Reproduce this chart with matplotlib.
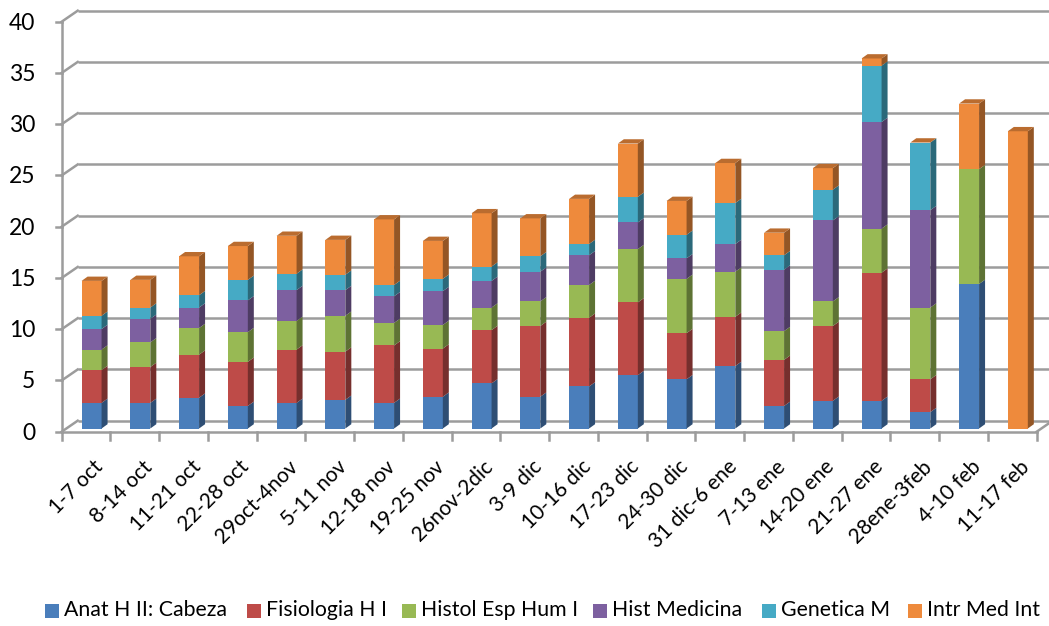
import matplotlib
matplotlib.use('Agg')
import matplotlib.pyplot as plt
import numpy as np
from matplotlib.patches import Polygon, Rectangle
from matplotlib.transforms import ScaledTranslation
import matplotlib.colors as mcolors

# ---------------- data ----------------
categories = ["1-7 oct", "8-14 oct", "11-21 oct", "22-28 oct", "29oct-4nov",
              "5-11 nov", "12-18 nov", "19-25 nov", "26nov-2dic", "3-9 dic",
              "10-16 dic", "17-23 dic", "24-30 dic", "31 dic-6 ene", "7-13 ene",
              "14-20 ene", "21-27 ene", "28ene-3feb", "4-10 feb", "11-17 feb"]

series_names = ["Anat H II: Cabeza", "Fisiologia H I", "Histol Esp Hum I",
                "Hist Medicina", "Genetica M", "Intr Med Int"]

anat = [2.5, 2.5, 3.0, 2.2, 2.5, 2.8, 2.5, 3.1, 4.4, 3.1,
        4.1, 5.2, 4.8, 6.1, 2.2, 2.7, 2.7, 1.6, 14.1, 0.0]
fisio = [3.2, 3.5, 4.2, 4.3, 5.2, 4.7, 5.6, 4.7, 5.2, 6.9,
         6.7, 7.1, 4.5, 4.8, 4.5, 7.3, 12.5, 3.2, 0.0, 0.0]
histol = [2.0, 2.4, 2.6, 2.9, 2.8, 3.5, 2.2, 2.3, 2.2, 2.4,
          3.2, 5.2, 5.3, 4.4, 2.8, 2.4, 4.3, 7.0, 11.2, 0.0]
histmed = [2.0, 2.3, 2.0, 3.1, 3.0, 2.5, 2.6, 3.3, 2.6, 2.9,
           2.9, 2.6, 2.0, 2.7, 6.0, 7.9, 10.4, 9.5, 0.0, 0.0]
genetica = [1.3, 1.1, 1.2, 2.0, 1.6, 1.5, 1.1, 1.2, 1.4, 1.5,
            1.1, 2.5, 2.3, 4.0, 1.4, 3.0, 5.5, 6.6, 0.0, 0.0]
intrmed = [3.4, 2.7, 3.8, 3.3, 3.7, 3.4, 6.4, 3.7, 5.2, 3.7,
           4.4, 5.2, 3.3, 3.9, 2.2, 2.1, 0.7, 0.0, 6.4, 29.0]

series_values = [anat, fisio, histol, histmed, genetica, intrmed]
colors = ["#4A7EBB", "#BE4B48", "#98B954", "#7D60A0", "#46AAC5", "#EE8A3C"]
y_ticks = [0, 5, 10, 15, 20, 25, 30, 35, 40]

# ---------------- layout ----------------
W, H = 1049, 626
fig = plt.figure(figsize=(W / 100, H / 100), dpi=100)
ax_left, ax_top, ax_w, ax_h = 61.7, 431.7, 975.0, 410.0
ax = fig.add_axes([ax_left / W, (H - ax_top) / H, ax_w / W, ax_h / H])
n = len(categories)
ax.set_xlim(0, n)
ax.set_ylim(0, 40)
ax.axis('off')

ppx = ax_w / n      # pixels per x unit
ppy = ax_h / 40.0   # pixels per y unit


def px(dx, dy):
    return dx / ppx, dy / ppy


grid_c = "#9c9c9c"
grid_lw = 1.8
FONT = "Lato"

# back wall / side wall / floor
Dx, Dy = px(16, 11)
for v in y_ticks:
    ax.plot([Dx, n + Dx], [v + Dy, v + Dy], color=grid_c, lw=grid_lw,
            clip_on=False, zorder=1, solid_capstyle='butt')
    ax.plot([0, Dx], [v, v + Dy], color=grid_c, lw=grid_lw, clip_on=False, zorder=1)
ax.plot([0, 0], [0, 40], color=grid_c, lw=grid_lw, clip_on=False, zorder=1)
ax.plot([0, n], [0, 0], color=grid_c, lw=grid_lw, clip_on=False, zorder=1)
ax.plot([n, n + Dx], [0, Dy], color=grid_c, lw=grid_lw, clip_on=False, zorder=1)

# tick marks
tx, _ = px(6, 0)
for v in y_ticks:
    ax.plot([-tx, 0], [v, v], color=grid_c, lw=grid_lw, clip_on=False, zorder=1)
_, ty = px(0, 8)
for i in range(n + 1):
    ax.plot([i, i], [0, -ty], color=grid_c, lw=grid_lw, clip_on=False, zorder=1)

# bars
Fx, Fy = px(5.5, 3.2)   # front-face depth offset
Bx, By = px(6.0, 4.3)   # bar depth
w = 0.41
xc = np.arange(n) + 0.5 + Fx


def shade(c, f):
    r, g, b = mcolors.to_rgb(c)
    return (r * f, g * f, b * f)


bottom = np.zeros(n)
for vals, c in zip(series_values, colors):
    vals = np.array(vals, dtype=float)
    ax.bar(xc, vals, width=w, bottom=bottom + Fy, color=c, linewidth=0,
           zorder=3, clip_on=False)
    for i in range(n):
        if vals[i] <= 0:
            continue
        x1 = xc[i] + w / 2
        b = bottom[i] + Fy
        t = b + vals[i]
        ax.add_patch(Polygon([(x1, b), (x1 + Bx, b + By), (x1 + Bx, t + By), (x1, t)],
                             closed=True, facecolor=shade(c, 0.62), edgecolor='none',
                             zorder=3, clip_on=False))
    bottom = bottom + vals

top_c = shade(colors[-1], 0.78)
for i in range(n):
    x0 = xc[i] - w / 2
    x1 = xc[i] + w / 2
    T = bottom[i] + Fy
    ax.add_patch(Polygon([(x0, T), (x1, T), (x1 + Bx, T + By), (x0 + Bx, T + By)],
                         closed=True, facecolor=top_c, edgecolor='none',
                         zorder=3, clip_on=False))

# y tick labels
ylab_tr = ax.transData + ScaledTranslation(-0.265, -0.015, fig.dpi_scale_trans)
for v in y_ticks:
    ax.text(0, v, str(v), transform=ylab_tr, ha='right', va='center',
            fontsize=16.5, family=FONT, color='black')

# x tick labels
xlab_tr = ax.transData + ScaledTranslation(0.07, -0.25, fig.dpi_scale_trans)
for i, lab in enumerate(categories):
    ax.text(i + 0.5, 0, lab, transform=xlab_tr, rotation=45, ha='right', va='top',
            rotation_mode='anchor', fontsize=15, family=FONT, color='black')

# legend
leg_x = [45, 247, 402, 593, 762, 908]
leg_yc = 610.5
sq = 14
for xs, name, c in zip(leg_x, series_names, colors):
    fig.patches.append(Rectangle((xs / W, (H - leg_yc - sq / 2) / H), sq / W, sq / H,
                                 transform=fig.transFigure, facecolor=c,
                                 edgecolor='none'))
    fig.text((xs + sq + 5) / W, (H - leg_yc) / H, name, ha='left', va='center',
             fontsize=15.3, family=FONT, color='black')

fig.savefig("out.png", dpi=100)
